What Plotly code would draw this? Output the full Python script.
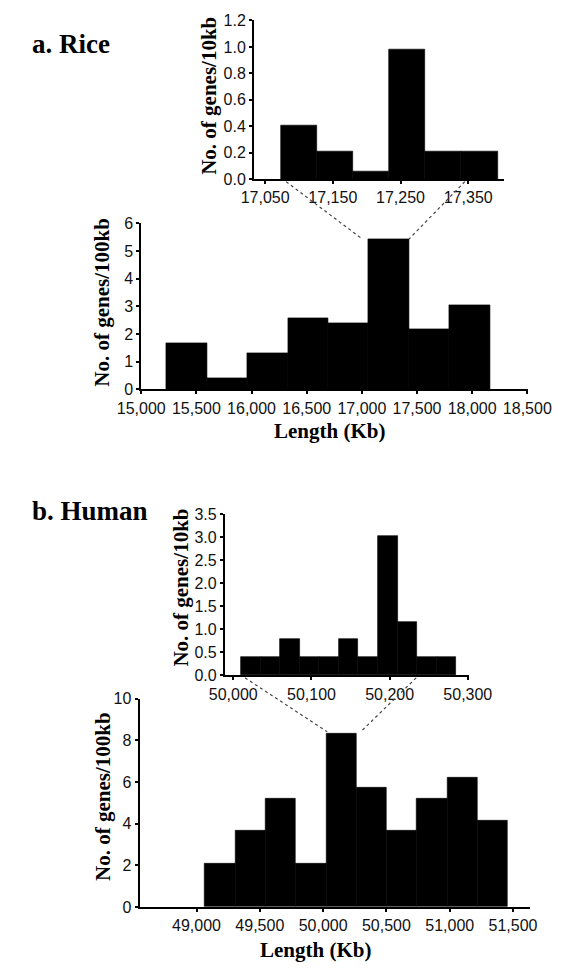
import plotly.graph_objects as go

# ---- data: gene density histograms (bin start, bin width, bar heights) ----
rice_main_start = 15229
rice_main_width = 366.4
rice_main_vals = [1.67, 0.39, 1.30, 2.57, 2.39, 5.41, 2.18, 3.04]

rice_zoom_start = 17074
rice_zoom_width = 53.2
rice_zoom_vals = [0.41, 0.21, 0.06, 0.98, 0.21, 0.21]

human_main_start = 49066
human_main_width = 239.4
human_main_vals = [2.09, 3.66, 5.21, 2.09, 8.30, 5.71, 3.66, 5.21, 6.23, 4.14]

human_zoom_start = 50010
human_zoom_width = 25
human_zoom_vals = [0.41, 0.41, 0.78, 0.41, 0.41, 0.78, 0.41, 3.02, 1.16, 0.41, 0.41]

# tick positions
rice_main_xticks = [15000, 15500, 16000, 16500, 17000, 17500, 18000, 18500]
rice_main_yticks = [0, 1, 2, 3, 4, 5, 6]
rice_zoom_xticks = [17050, 17150, 17250, 17350]
rice_zoom_yticks = [0.0, 0.2, 0.4, 0.6, 0.8, 1.0, 1.2]
human_main_xticks = [49000, 49500, 50000, 50500, 51000, 51500]
human_main_yticks = [0, 2, 4, 6, 8, 10]
human_zoom_xticks = [50000, 50100, 50200, 50300]
human_zoom_yticks = [0.0, 0.5, 1.0, 1.5, 2.0, 2.5, 3.0, 3.5]

# zoom connectors: (inset x, main x, main y) for left and right guide lines
rice_links = [(17081, 17003, 5.43), (17345, 17428, 5.43)]
human_links = [(50015, 50032, 8.41), (50234, 50297, 8.41)]

# ---- layout geometry ----
W, H = 572, 970
axes = {
    "rice_zoom":  dict(xr=[17033.6, 17403.5], yr=[0, 1.2], xd=[0.4381, 0.9152], yd=[0.8203, 0.9869]),
    "rice_main":  dict(xr=[15000, 18505],     yr=[0, 6],   xd=[0.2233, 0.9598], yd=[0.5997, 0.7742]),
    "human_zoom": dict(xr=[49989.3, 50302],   yr=[0, 3.5], xd=[0.3827, 0.8483], yd=[0.2997, 0.4691]),
    "human_main": dict(xr=[48550, 51632],     yr=[0, 10],  xd=[0.2201, 0.9633], yd=[0.0567, 0.2753]),
}


def to_paper(v, rng, dom):
    return dom[0] + (v - rng[0]) / (rng[1] - rng[0]) * (dom[1] - dom[0])


def bins(start, width, vals):
    centers = [start + width * (i + 0.5) for i in range(len(vals))]
    return centers, [width] * len(vals)


tick_font = dict(family="Liberation Sans Narrow, Arial Narrow, Liberation Sans, sans-serif",
                 size=16, color="#111")
serif = "Liberation Serif, Times New Roman, serif"

fig = go.Figure()
panels = [
    ("rice_zoom", "x", "y", rice_zoom_start, rice_zoom_width, rice_zoom_vals),
    ("rice_main", "x2", "y2", rice_main_start, rice_main_width, rice_main_vals),
    ("human_zoom", "x3", "y3", human_zoom_start, human_zoom_width, human_zoom_vals),
    ("human_main", "x4", "y4", human_main_start, human_main_width, human_main_vals),
]
for name, xa, ya, s, w, v in panels:
    cx, ws = bins(s, w, v)
    fig.add_trace(go.Bar(x=cx, y=v, width=ws, xaxis=xa, yaxis=ya,
                         marker=dict(color="black", line=dict(color="black", width=0.6)),
                         showlegend=False, hoverinfo="skip"))

ticks = {
    "rice_zoom": (rice_zoom_xticks, rice_zoom_yticks, ".1f"),
    "rice_main": (rice_main_xticks, rice_main_yticks, "d"),
    "human_zoom": (human_zoom_xticks, human_zoom_yticks, ".1f"),
    "human_main": (human_main_xticks, human_main_yticks, "d"),
}

common = dict(showgrid=False, zeroline=False, showline=True, linecolor="black",
              linewidth=2, ticks="outside", ticklen=3, tickwidth=1.5,
              tickcolor="black", tickfont=tick_font, fixedrange=True)

layout_axes = {}
for i, (name, *_rest) in enumerate(panels):
    a = axes[name]
    xt, yt, yfmt = ticks[name]
    sx = "" if i == 0 else str(i + 1)
    layout_axes["xaxis" + sx] = dict(common, domain=a["xd"], range=a["xr"],
                                     anchor="y" + sx, tickvals=xt, tickformat=",d")
    layout_axes["yaxis" + sx] = dict(common, domain=a["yd"], range=a["yr"],
                                     anchor="x" + sx, tickvals=yt, tickformat=yfmt)

# dotted guide lines linking each inset to the enlarged bar below it
shapes = []
for inset, main, links in [("rice_zoom", "rice_main", rice_links),
                           ("human_zoom", "human_main", human_links)]:
    ai, am = axes[inset], axes[main]
    for xi, xm, ym in links:
        shapes.append(dict(
            type="line", xref="paper", yref="paper",
            x0=to_paper(xi, ai["xr"], ai["xd"]), y0=to_paper(-0.015 * ai["yr"][1], ai["yr"], ai["yd"]),
            x1=to_paper(xm, am["xr"], am["xd"]), y1=to_paper(ym, am["yr"], am["yd"]),
            line=dict(color="#444", width=1.2, dash="dot")))


def ann(text, xpx, ypx, size, angle=0):
    return dict(text=text, x=xpx / W, y=1 - ypx / H, xref="paper", yref="paper",
                xanchor="center", yanchor="middle", showarrow=False, textangle=angle,
                font=dict(family=serif, size=size, color="black", weight="bold"))


annotations = [
    dict(ann("a. Rice", 0, 37, 27), xanchor="left", x=6 / W),
    dict(ann("b. Human", 0, 512, 27), xanchor="left", x=6 / W),
    ann("No. of genes/10kb", 202, 89, 21, -90),
    ann("No. of genes/100kb", 85, 300, 21, -90),
    ann("Length (Kb)", 333, 431, 21),
    ann("No. of genes/10kb", 171, 590, 21, -90),
    ann("No. of genes/100kb", 86, 802, 21, -90),
    ann("Length (Kb)", 318, 959, 21),
]

fig.update_layout(
    width=W, height=H, margin=dict(l=0, r=0, t=0, b=0),
    paper_bgcolor="white", plot_bgcolor="white",
    bargap=0, shapes=shapes, annotations=annotations, **layout_axes)

fig.write_html("out.html", config={"displayModeBar": False})
